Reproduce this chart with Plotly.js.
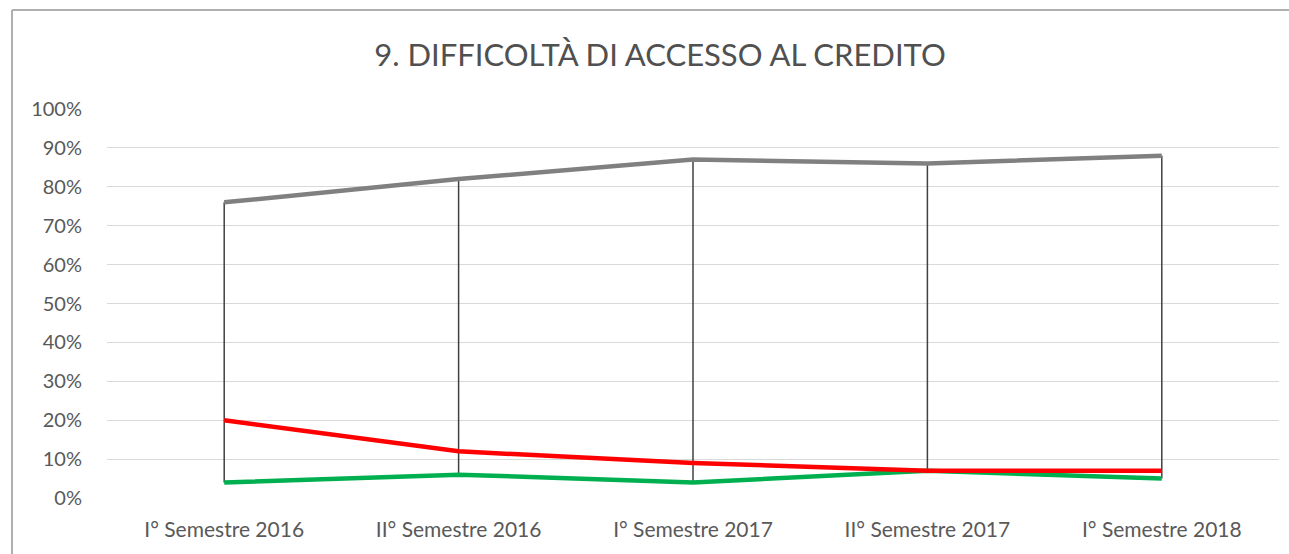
<!DOCTYPE html>
<html>
<head>
<meta charset="utf-8">
<script src="https://cdn.plot.ly/plotly-3.0.1.min.js"></script>
<style>html,body{margin:0;padding:0;background:#fff;}#chart{width:1289px;height:554px;}</style>
</head>
<body>
<div id="chart"></div>
<script>
const categories = ["I° Semestre 2016", "II° Semestre 2016", "I° Semestre 2017", "II° Semestre 2017", "I° Semestre 2018"];
const grayValues = [0.76, 0.82, 0.87, 0.86, 0.88];
const redValues = [0.20, 0.12, 0.09, 0.07, 0.07];
const greenValues = [0.04, 0.06, 0.04, 0.07, 0.05];
const yTickValues = [0, 0.1, 0.2, 0.3, 0.4, 0.5, 0.6, 0.7, 0.8, 0.9, 1.0];
const yTickLabels = ["0%", "10%", "20%", "30%", "40%", "50%", "60%", "70%", "80%", "90%", "100%"];

// high-low lines built from the series
const hlX = [], hlY = [];
categories.forEach((c, i) => {
  const vals = [grayValues[i], redValues[i], greenValues[i]];
  hlX.push(c, c, null);
  hlY.push(Math.max(...vals), Math.min(...vals), null);
});

const font = "Lato, 'Open Sans', sans-serif";
const traces = [
  {x: hlX, y: hlY, mode: 'lines', line: {color: '#404040', width: 1.5}, hoverinfo: 'skip', showlegend: false},
  {x: categories, y: grayValues, mode: 'lines', line: {color: '#808080', width: 4.5}, showlegend: false},
  {x: categories, y: greenValues, mode: 'lines', line: {color: '#00B050', width: 4.5}, showlegend: false},
  {x: categories, y: redValues, mode: 'lines', line: {color: '#FF0000', width: 4.5}, showlegend: false}
];

const bx = (12 - 107) / 1172;
const by = 1 + (109 - 10) / 389;
const layout = {
  width: 1289, height: 554,
  margin: {l: 107, r: 10, t: 109, b: 56},
  paper_bgcolor: '#ffffff', plot_bgcolor: '#ffffff',
  title: {text: '9. DIFFICOLTÀ DI ACCESSO AL CREDITO', font: {family: font, size: 31, color: '#505050'}, x: 660/1289, xanchor: 'center', y: 0.9, yanchor: 'middle'},
  xaxis: {type: 'category', range: [-0.5, 4.5], showgrid: false, zeroline: false, showline: false, ticks: '',
          ticklabelstandoff: 17,
          tickfont: {family: font, size: 21, color: '#595959'}, fixedrange: true},
  yaxis: {range: [0, 1.0], tickvals: yTickValues, ticktext: yTickLabels, showgrid: true, gridcolor: '#D9D9D9', gridwidth: 1,
          zeroline: false, showline: false, ticks: '', ticklabelstandoff: 24,
          tickfont: {family: font, size: 20, color: '#595959'}, fixedrange: true},
  shapes: [
    {type: 'line', xref: 'paper', yref: 'paper', x0: bx, x1: bx, y0: -0.2, y1: by,
     line: {color: '#B0B0B0', width: 2}, layer: 'below'},
    {type: 'line', xref: 'paper', yref: 'paper', x0: bx, x1: 1.1, y0: by, y1: by,
     line: {color: '#B0B0B0', width: 2}, layer: 'below'}
  ],
  hovermode: false
};

Plotly.newPlot('chart', traces, layout, {displayModeBar: false, staticPlot: true});
</script>
</body>
</html>
